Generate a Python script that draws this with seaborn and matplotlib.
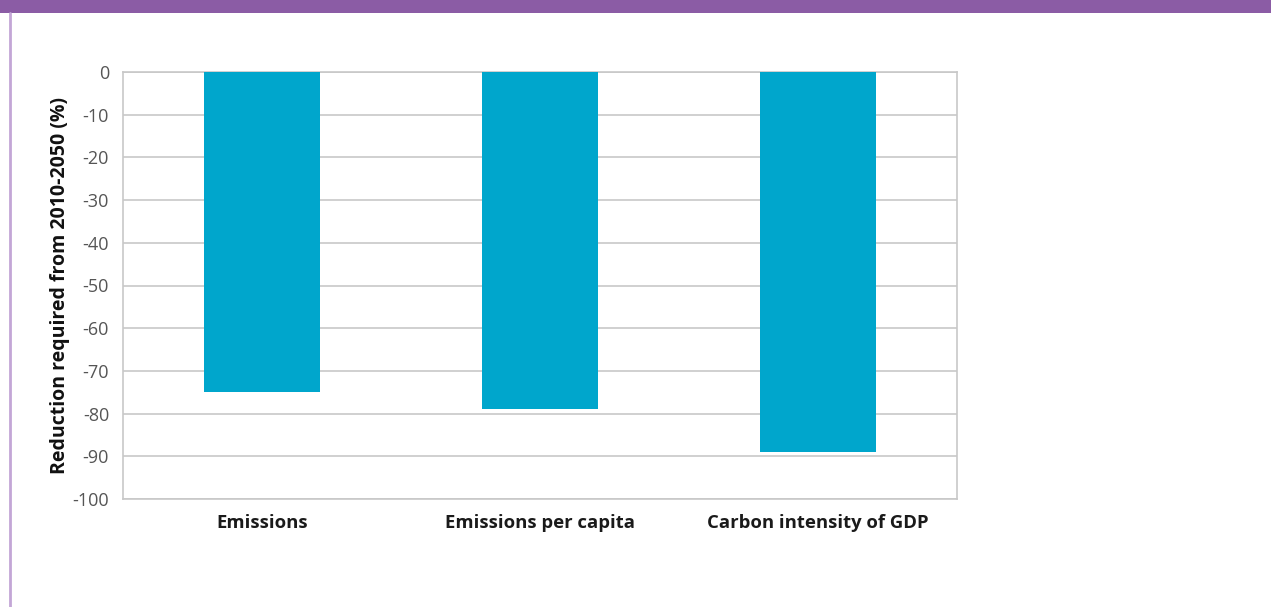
import matplotlib
matplotlib.use("Agg")
import matplotlib.pyplot as plt
import seaborn as sns
import pandas as pd
from matplotlib.patches import Rectangle
from matplotlib.lines import Line2D

categories = ["Emissions", "Emissions per capita", "Carbon intensity of GDP"]
reduction = [-75, -79, -89]
y_ticks = [0, -10, -20, -30, -40, -50, -60, -70, -80, -90, -100]

df = pd.DataFrame({"category": categories, "reduction": reduction})

sns.set_theme(style="white")
plt.rcParams["font.family"] = ["Open Sans", "DejaVu Sans"]
plt.rcParams["axes.unicode_minus"] = False

fig = plt.figure(figsize=(12.71, 6.07), dpi=100)
W, H = 1271, 607

# purple header band and left frame rule
fig.patches.append(Rectangle((0, 1 - 13 / H), 1, 13 / H, transform=fig.transFigure,
                             facecolor="#8b5ca5", edgecolor="none", zorder=0))
fig.lines.append(Line2D([9.5 / W, 9.5 / W], [0, 1 - 13 / H], transform=fig.transFigure,
                        color="#c3a6d6", linewidth=2))

ax = fig.add_axes([123 / W, 1 - 499 / H, (957 - 123) / W, (499 - 72) / H])
sns.barplot(data=df, x="category", y="reduction", color="#00a6cc", saturation=1,
            width=0.415, ax=ax, zorder=3)
for p in ax.patches:
    p.set_edgecolor("none")

ax.set_ylim(-100, 0)
ax.set_xlim(-0.5, 2.5)
ax.set_yticks(y_ticks)
ax.set_yticklabels([str(v) for v in y_ticks])
ax.yaxis.grid(True, color="#c8c8c8", linewidth=1.2, zorder=0)
ax.set_axisbelow(True)
for s in ax.spines.values():
    s.set_visible(True)
    s.set_color("#c8c8c8")
    s.set_linewidth(1.2)

ax.tick_params(axis="y", labelsize=13, labelcolor="#555555", length=0, pad=10)
ax.tick_params(axis="x", labelsize=13.3, labelcolor="#1a1a1a", length=0, pad=11)
for lbl in ax.get_xticklabels():
    lbl.set_fontweight("bold")
ax.set_xlabel("")
ax.set_ylabel("Reduction required from 2010-2050 (%)", fontsize=14, fontweight="bold",
              color="#111111", labelpad=2)

fig.savefig("out.png", dpi=100, facecolor="white")
